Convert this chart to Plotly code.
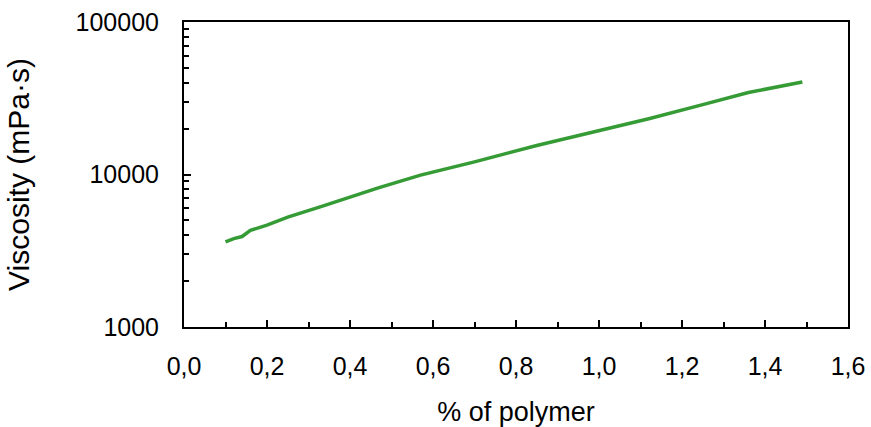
import plotly.graph_objects as go

polymer_pct = [0.10, 0.12, 0.14, 0.16, 0.20, 0.25, 0.33, 0.42, 0.47, 0.57, 0.70, 0.85, 1.00, 1.12, 1.25, 1.36, 1.49]
viscosity = [3620, 3800, 3920, 4300, 4650, 5250, 6150, 7400, 8200, 9900, 12100, 15500, 19400, 23200, 28700, 34500, 40400]

x_tick_vals = [0.0, 0.2, 0.4, 0.6, 0.8, 1.0, 1.2, 1.4, 1.6]
x_tick_text = ["0,0", "0,2", "0,4", "0,6", "0,8", "1,0", "1,2", "1,4", "1,6"]
y_tick_vals = [1000, 10000, 100000]
y_tick_text = ["1000", "10000", "100000"]

fam = "Liberation Sans, Arial, sans-serif"
tick_font = dict(family=fam, size=25, color="#000")

fig = go.Figure()
fig.add_trace(go.Scatter(x=polymer_pct, y=viscosity, mode="lines",
                         line=dict(color="#359B35", width=3.5), showlegend=False))

fig.update_layout(
    width=871, height=427,
    margin=dict(l=184, r=23, t=22, b=100),
    paper_bgcolor="white", plot_bgcolor="white",
    font=dict(family=fam, size=24, color="#000"),
    xaxis=dict(range=[0, 1.6], tickvals=x_tick_vals, ticktext=x_tick_text,
               tickfont=tick_font, automargin=False, ticklabelstandoff=16,
               ticklabeloverflow="allow",
               showgrid=False, zeroline=False, showline=True, linecolor="#000", linewidth=2,
               mirror=True, ticks="inside", ticklen=7, tickwidth=1.5, tickcolor="#000",
               minor=dict(dtick=0.1, ticks="inside", ticklen=5, tickwidth=1.5, tickcolor="#000", showgrid=False),
               title=dict(text="% of polymer", font=dict(family=fam, size=27, color="#000"), standoff=23)),
    yaxis=dict(type="log", range=[3, 5], tickvals=y_tick_vals, ticktext=y_tick_text,
               tickfont=tick_font, automargin=False, ticklabelstandoff=18,
               ticklabeloverflow="allow",
               showgrid=False, zeroline=False, showline=True, linecolor="#000", linewidth=2,
               mirror=True, ticks="inside", ticklen=7, tickwidth=1.5, tickcolor="#000",
               minor=dict(tickvals=[v * m for v in [1000, 10000] for m in range(2, 10)],
                          ticks="inside", ticklen=5, tickwidth=1.5, tickcolor="#000", showgrid=False),
               title=dict(text="Viscosity (mPa·s)", font=dict(family=fam, size=30, color="#000"), standoff=37)),
)

fig.write_html("out.html", config={"displayModeBar": False},
               post_script="document.body.style.margin='0';document.body.style.overflow='hidden';")
